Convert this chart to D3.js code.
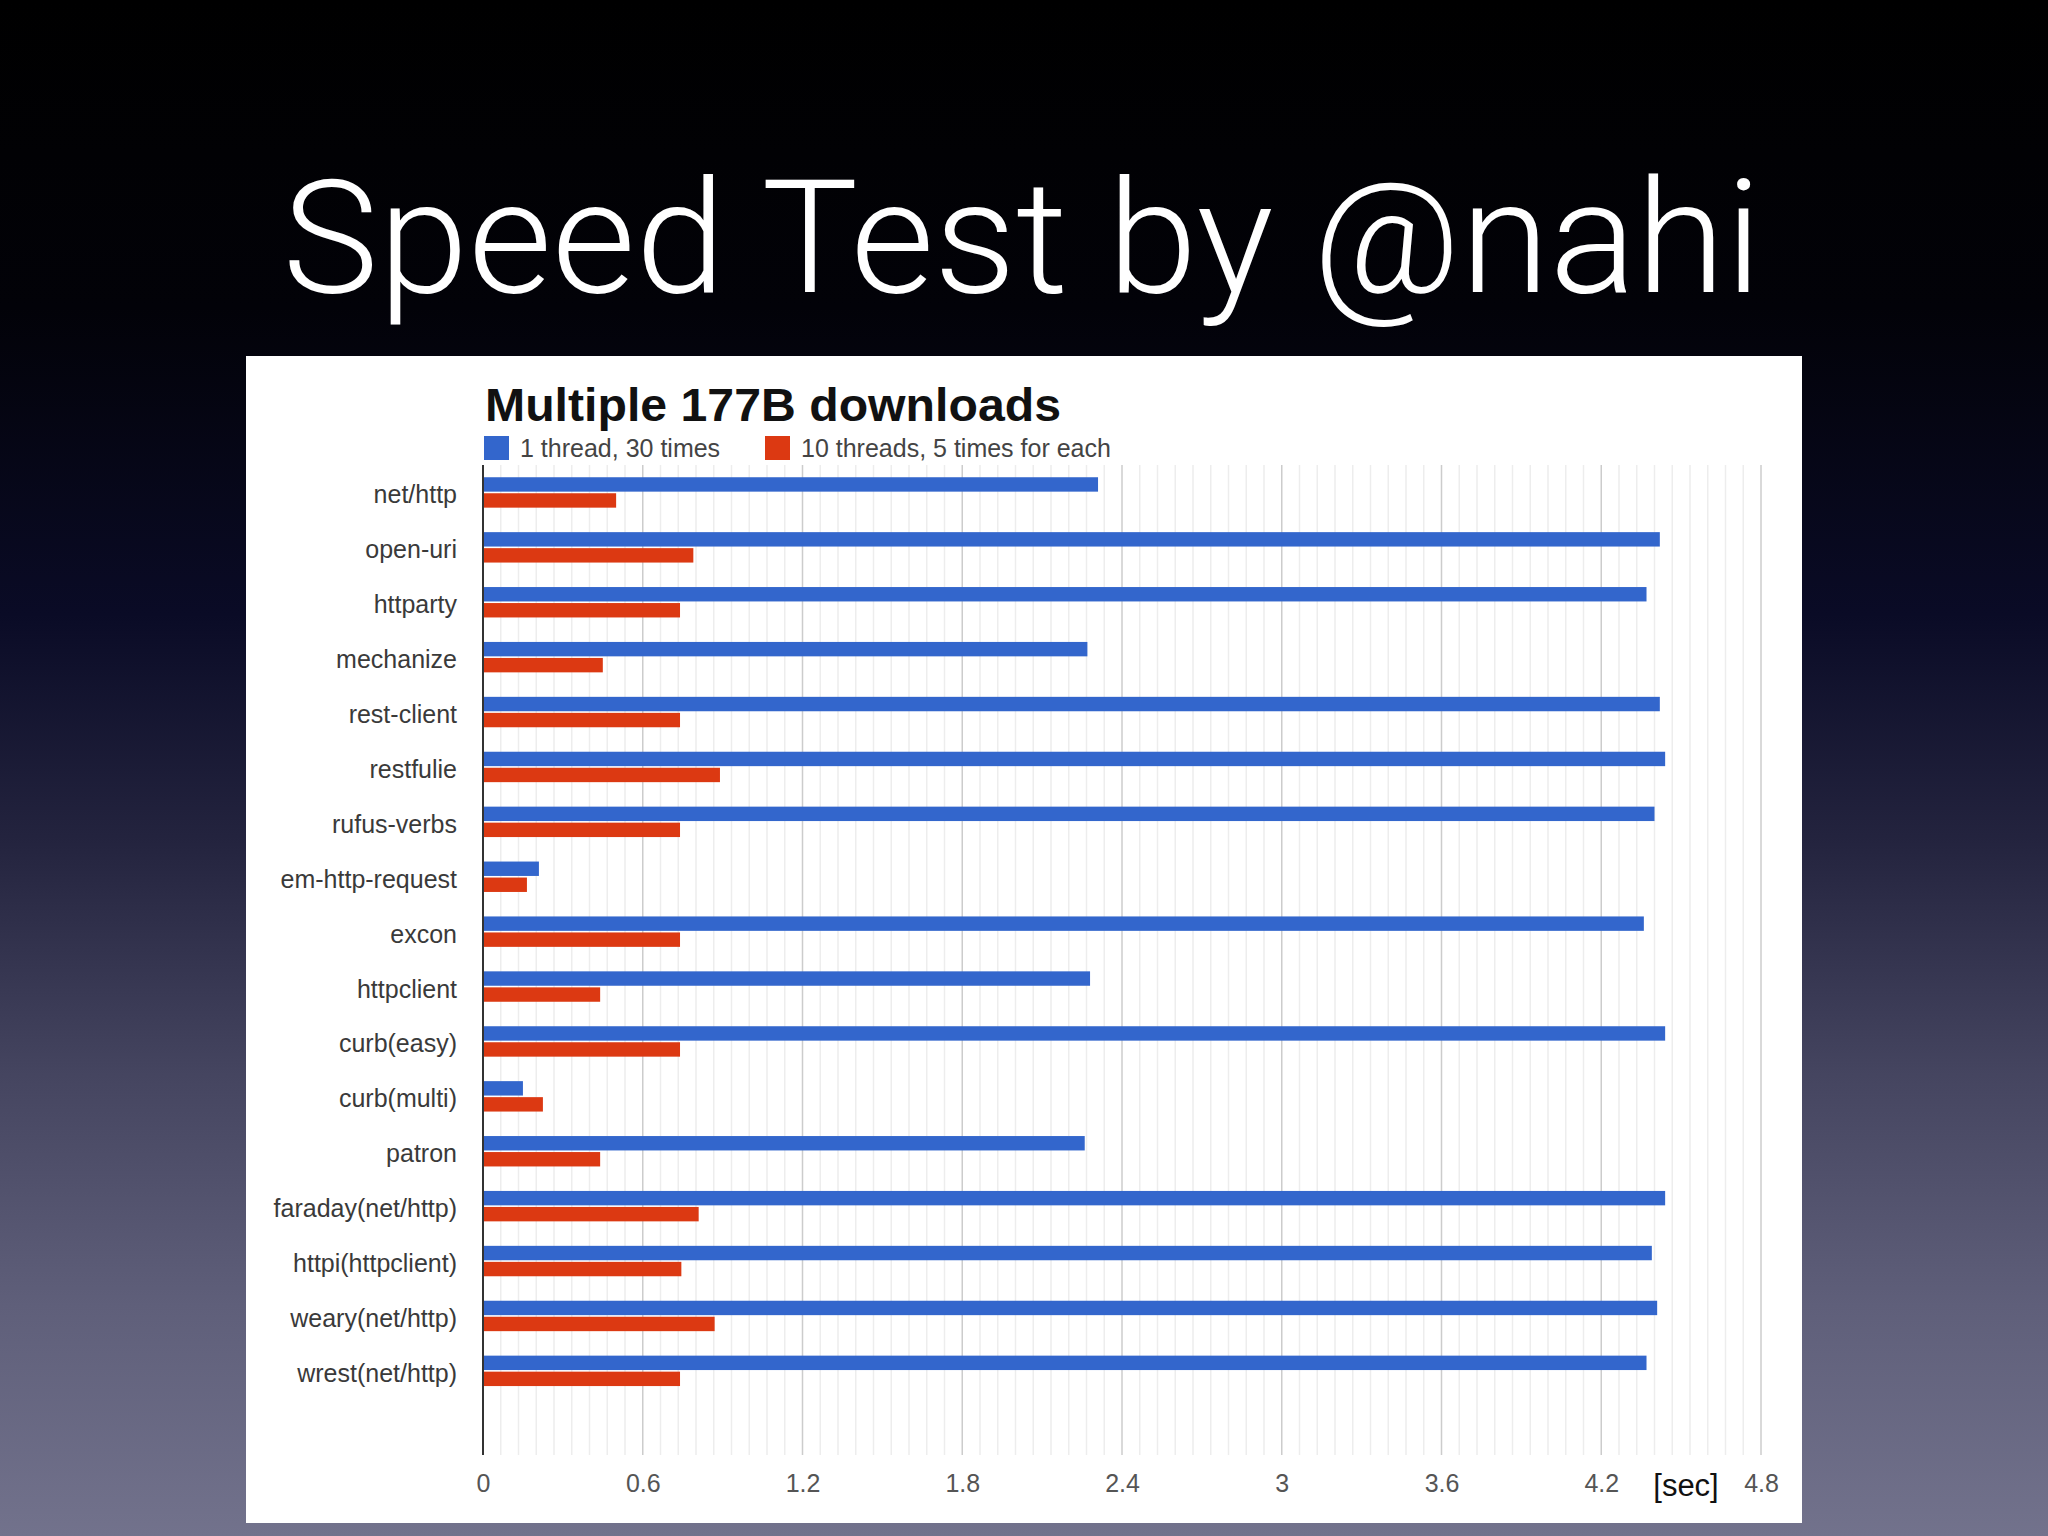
<!DOCTYPE html>
<html>
<head>
<meta charset="utf-8">
<script src="https://cdnjs.cloudflare.com/ajax/libs/d3/7.8.5/d3.min.js"></script>
<style>
  html, body { margin: 0; padding: 0; background: #000; }
  svg { display: block; }
</style>
</head>
<body>
<svg id="slide"></svg>
<script>
// libraries, top to bottom as in the chart
var categories = ["net/http", "open-uri", "httparty", "mechanize", "rest-client", "restfulie",
  "rufus-verbs", "em-http-request", "excon", "httpclient", "curb(easy)", "curb(multi)",
  "patron", "faraday(net/http)", "httpi(httpclient)", "weary(net/http)", "wrest(net/http)"];

// seconds
var oneThread = [2.31, 4.42, 4.37, 2.27, 4.42, 4.44, 4.40, 0.21, 4.36, 2.28, 4.44, 0.15,
  2.26, 4.44, 4.39, 4.41, 4.37];
var tenThreads = [0.50, 0.79, 0.74, 0.45, 0.74, 0.89, 0.74, 0.165, 0.74, 0.44, 0.74, 0.225,
  0.44, 0.81, 0.745, 0.87, 0.74];

var seriesNames = ["1 thread, 30 times", "10 threads, 5 times for each"];
var seriesColors = ["#3366cc", "#dc3912"];
var tickValues = [0, 0.6, 1.2, 1.8, 2.4, 3, 3.6, 4.2, 4.8];

var W = 2048, H = 1536;
var svg = d3.select("#slide")
  .attr("width", W)
  .attr("height", H);

// slide background
var defs = svg.append("defs");
var grad = defs.append("linearGradient")
  .attr("id", "bg")
  .attr("x1", 0).attr("y1", 0).attr("x2", 0).attr("y2", 1);
[[0, "#000000"], [0.2, "#020208"], [0.4, "#0a0b26"], [0.55, "#24243f"],
 [0.7, "#454560"], [0.85, "#5f5f7a"], [1, "#72728c"]].forEach(function(s) {
  grad.append("stop").attr("offset", s[0]).attr("stop-color", s[1]);
});
svg.append("rect")
  .attr("width", W).attr("height", H)
  .attr("fill", "url(#bg)");

// slide title
svg.append("text")
  .attr("x", 1022)
  .attr("y", 292)
  .attr("text-anchor", "middle")
  .attr("fill", "#fff")
  .attr("font-family", "'Helvetica Neue', Roboto, 'Liberation Sans', sans-serif")
  .attr("font-weight", 300)
  .attr("font-size", 158)
  .attr("textLength", 1479)
  .attr("lengthAdjust", "spacingAndGlyphs")
  .text("Speed Test by @nahi");

// white chart panel
svg.append("rect")
  .attr("x", 246).attr("y", 356)
  .attr("width", 1556).attr("height", 1167)
  .attr("fill", "#fff");

var plotLeft = 483, plotRight = 1761, plotTop = 465, plotBottom = 1455;

var x = d3.scaleLinear()
  .domain([0, 4.8])
  .range([plotLeft, plotRight]);

var y = d3.scaleBand()
  .domain(categories)
  .range([plotTop, plotTop + categories.length * 54.9])
  .paddingInner(0.446)
  .paddingOuter(0.223);

var ySub = d3.scaleBand()
  .domain([0, 1])
  .range([0, y.bandwidth()])
  .paddingInner(0.1);

var g = svg.append("g");

// minor gridlines
var minor = d3.range(0, 72 + 1).map(function(i) { return i * 0.6 / 9; })
  .filter(function(v) { return Math.abs(v / 0.6 - Math.round(v / 0.6)) > 0.01; });
g.selectAll("line.minor")
  .data(minor)
  .enter().append("line")
  .attr("class", "minor")
  .attr("x1", function(d) { return x(d); })
  .attr("x2", function(d) { return x(d); })
  .attr("y1", plotTop)
  .attr("y2", plotBottom)
  .attr("stroke", "#ededed")
  .attr("stroke-width", 1.5);

// major gridlines
g.selectAll("line.major")
  .data(tickValues.slice(1))
  .enter().append("line")
  .attr("class", "major")
  .attr("x1", function(d) { return x(d); })
  .attr("x2", function(d) { return x(d); })
  .attr("y1", plotTop)
  .attr("y2", plotBottom)
  .attr("stroke", "#cccccc")
  .attr("stroke-width", 1.5);

// bars
var rows = categories.map(function(c, i) {
  return { name: c, values: [oneThread[i], tenThreads[i]] };
});

var row = g.selectAll("g.row")
  .data(rows)
  .enter().append("g")
  .attr("class", "row")
  .attr("transform", function(d) { return "translate(0," + y(d.name) + ")"; });

row.selectAll("rect")
  .data(function(d) { return d.values; })
  .enter().append("rect")
  .attr("x", x(0))
  .attr("y", function(d, i) { return ySub(i); })
  .attr("width", function(d) { return x(d) - x(0); })
  .attr("height", ySub.bandwidth())
  .attr("fill", function(d, i) { return seriesColors[i]; });

// baseline
g.append("line")
  .attr("x1", x(0)).attr("x2", x(0))
  .attr("y1", plotTop).attr("y2", plotBottom)
  .attr("stroke", "#333")
  .attr("stroke-width", 2);

// category labels
var yAxis = g.append("g")
  .attr("transform", "translate(" + (plotLeft - 26) + ",3)")
  .call(d3.axisLeft(y).tickSize(0).tickPadding(0));
yAxis.select(".domain").remove();
yAxis.selectAll("text")
  .attr("font-family", "'Liberation Sans', Arial, sans-serif")
  .attr("font-size", 25)
  .attr("fill", "#3a3a3a");

// x tick labels
var xAxis = g.append("g")
  .attr("transform", "translate(0," + plotBottom + ")")
  .call(d3.axisBottom(x).tickValues(tickValues).tickSize(0).tickPadding(19)
    .tickFormat(function(d) { return String(d); }));
xAxis.select(".domain").remove();
xAxis.selectAll("text")
  .attr("font-family", "'Liberation Sans', Arial, sans-serif")
  .attr("font-size", 25)
  .attr("fill", "#555");

// unit label
svg.append("text")
  .attr("x", 1686)
  .attr("y", 1496)
  .attr("text-anchor", "middle")
  .attr("font-family", "'Liberation Sans', Arial, sans-serif")
  .attr("font-size", 31)
  .attr("fill", "#111")
  .text("[sec]");

// chart title
svg.append("text")
  .attr("x", 485)
  .attr("y", 421)
  .attr("font-family", "'Liberation Sans', Arial, sans-serif")
  .attr("font-weight", "bold")
  .attr("font-size", 46)
  .attr("textLength", 576)
  .attr("lengthAdjust", "spacingAndGlyphs")
  .attr("fill", "#111")
  .text("Multiple 177B downloads");

// legend
var legendX = [484, 765];
var legend = svg.selectAll("g.legend")
  .data(seriesNames)
  .enter().append("g")
  .attr("class", "legend")
  .attr("transform", function(d, i) { return "translate(" + legendX[i] + ",436)"; });
legend.append("rect")
  .attr("width", 25).attr("height", 24)
  .attr("fill", function(d, i) { return seriesColors[i]; });
legend.append("text")
  .attr("x", 36)
  .attr("y", 21)
  .attr("font-family", "'Liberation Sans', Arial, sans-serif")
  .attr("font-size", 25)
  .attr("fill", "#444")
  .text(function(d) { return d; });
</script>
</body>
</html>
